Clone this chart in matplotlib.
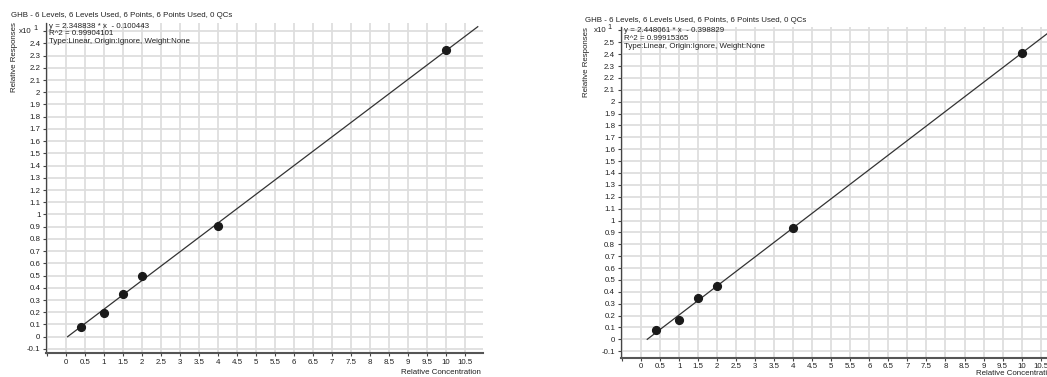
import matplotlib
matplotlib.use('Agg')
import matplotlib.pyplot as plt
import numpy as np
from matplotlib.ticker import FuncFormatter

plt.rcParams['font.family'] = ['Liberation Sans', 'DejaVu Sans']

# ---------------- data ----------------
title = 'GHB - 6 Levels, 6 Levels Used, 6 Points, 6 Points Used, 0 QCs'
conc = [0.4, 1, 1.5, 2, 4, 10]
resp_left = [0.8, 1.9, 3.5, 5.0, 9.05, 23.45]
resp_right = [0.78, 1.62, 3.5, 4.49, 9.37, 24.12]
slope_left, icpt_left = 2.348838, -0.100443
slope_right, icpt_right = 2.448061, -0.398829
r2_left = '0.99904101'
r2_right = '0.99915365'
x_ticks = [-0.5, 0, 0.5, 1, 1.5, 2, 2.5, 3, 3.5, 4, 4.5, 5, 5.5, 6, 6.5, 7, 7.5,
           8, 8.5, 9, 9.5, 10, 10.5]

W, H = 1047, 377
fig = plt.figure(figsize=(W / 100, H / 100), dpi=100)

FS = 5.7
TXT = '#222222'


def px_axes(l, t, r, b):
    return fig.add_axes([l / W, 1 - b / H, (r - l) / W, (b - t) / H])


def panel(box, xlim, ylim, top_tick, resp, slope, icpt, r2, title_xy, eq_x, eq_ys,
          ylab_xy, xlab_xy, x_end):
    ax = px_axes(*box)
    ax.set_xlim(*xlim)
    ax.set_ylim(*ylim)
    ax.set_axisbelow(True)
    ax.grid(True, color='#dedede', lw=1.3)
    for s in ['top', 'right']:
        ax.spines[s].set_visible(False)
    ax.spines['left'].set_color('#444444')
    ax.spines['left'].set_linewidth(0.9)
    ax.spines['bottom'].set_color('#555555')
    ax.spines['bottom'].set_linewidth(1.5)
    ax.tick_params(axis='both', direction='out', length=2.5, width=0.8,
                   colors='#444444', labelsize=FS, labelcolor=TXT, pad=1.5)
    ax.set_xticks(x_ticks)
    ax.xaxis.set_major_formatter(FuncFormatter(
        lambda v, p: '' if v < -0.25 else f'{v:g}'))
    ax.set_yticks(np.arange(-1, top_tick + 1, 1))
    ax.yaxis.set_major_formatter(FuncFormatter(
        lambda v, p: '' if abs(v - top_tick) < 1e-6 else f'{round(v / 10, 3):g}'))

    x0 = -icpt / slope
    xs = np.array([x0, x_end])
    ax.plot(xs, slope * xs + icpt, color='#333333', lw=0.9, zorder=2)
    ax.plot(conc, resp, 'o', ms=5.6, color='#1a1a1a', zorder=3, clip_on=False)

    # multiplier label at top tick
    ax.annotate('x10', xy=(0, top_tick), xycoords=('axes fraction', 'data'),
                xytext=(-14, 0), textcoords='offset pixels', ha='right',
                va='center', fontsize=FS, color=TXT)
    ax.annotate('1', xy=(0, top_tick), xycoords=('axes fraction', 'data'),
                xytext=(-11, 3), textcoords='offset pixels', ha='center',
                va='center', fontsize=FS - 0.5, color=TXT)

    fig.text(title_xy[0] / W, 1 - title_xy[1] / H, title, ha='left',
             va='center', fontsize=FS, color=TXT)
    lines = [f'y = {slope:.6f} * x  - {abs(icpt):.6f}', f'R^2 = {r2}',
             'Type:Linear, Origin:Ignore, Weight:None']
    for ln, yy in zip(lines, eq_ys):
        fig.text(eq_x / W, 1 - yy / H, ln, ha='left', va='center',
                 fontsize=FS, color=TXT)
    fig.text(ylab_xy[0] / W, 1 - ylab_xy[1] / H, 'Relative Responses',
             rotation=90, ha='center', va='top', fontsize=FS, color=TXT)
    fig.text(xlab_xy[0] / W, 1 - xlab_xy[1] / H, 'Relative Concentration',
             ha='right', va='center', fontsize=FS, color=TXT)
    return ax


panel((46, 23.3, 482.7, 353.3), (-0.526, 10.97), (-1.36, 25.64), 25,
      resp_left, slope_left, icpt_left, r2_left, (11, 15.7), 49,
      (26.7, 33.9, 41.7), (14, 22), (481, 372), 10.84)

panel((620.7, 27, 1058.5, 357.7), (-0.535, 10.97), (-1.55, 26.29), 26,
      resp_right, slope_right, icpt_right, r2_right, (585, 20), 623.5,
      (30.7, 38.5, 46.5), (587, 27), (1055.7, 373.5), 10.9)

fig.savefig('out.png', dpi=100)
